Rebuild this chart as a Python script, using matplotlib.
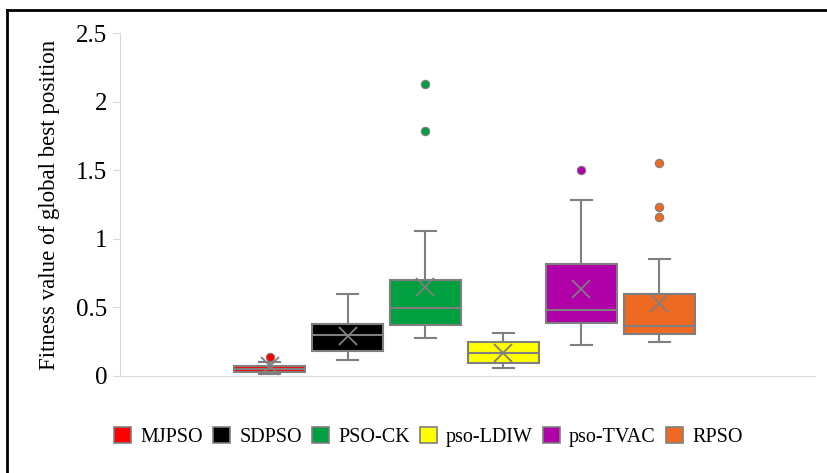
import matplotlib
matplotlib.use("Agg")
from matplotlib import pyplot as plt
from matplotlib.lines import Line2D
from matplotlib.patches import Patch

plt.rcParams['font.family'] = ['Liberation Serif', 'DejaVu Serif']

names = ['MJPSO', 'SDPSO', 'PSO-CK', 'pso-LDIW', 'pso-TVAC', 'RPSO']
colors = ['#FF0000', '#000000', '#00A040', '#FFFF00', '#B000A8', '#EE6A22']

# box statistics
whislo = [0.01, 0.115, 0.277, 0.054, 0.224, 0.246]
q1 = [0.025, 0.178, 0.37, 0.093, 0.387, 0.302]
med = [0.047, 0.30, 0.496, 0.168, 0.482, 0.363]
q3 = [0.071, 0.38, 0.70, 0.244, 0.813, 0.596]
whishi = [0.10, 0.596, 1.056, 0.314, 1.28, 0.85]
means = [0.07, 0.29, 0.65, 0.168, 0.633, 0.533]
fliers = [[0.134], [], [2.13, 1.79], [], [1.50], [1.555, 1.234, 1.158]]

grey = '#7F7F7F'

fig = plt.figure(figsize=(8.27, 4.73), dpi=100)
ax = fig.add_axes([0.1451, 0.2057, 0.8404, 0.7239])

stats = []
for i in range(len(names)):
    stats.append(dict(label=names[i], whislo=whislo[i], q1=q1[i], med=med[i],
                      q3=q3[i], whishi=whishi[i], mean=means[i], fliers=[]))

pos = list(range(1, len(names) + 1))
bp = ax.bxp(stats, positions=pos, widths=0.91, capwidths=0.27,
            patch_artist=True, showmeans=True, showfliers=False,
            boxprops=dict(edgecolor=grey, linewidth=1.5),
            medianprops=dict(color=grey, linewidth=1.5),
            whiskerprops=dict(color=grey, linewidth=1.5),
            capprops=dict(color=grey, linewidth=1.5),
            meanprops=dict(marker='x', markeredgecolor=grey, markersize=13,
                           markeredgewidth=1.3))
for box, c in zip(bp['boxes'], colors):
    box.set_facecolor(c)

for p, f, c in zip(pos, fliers, colors):
    if f:
        ax.scatter([p] * len(f), f, s=36, color=c, edgecolor=grey,
                   linewidth=0.8, zorder=3)

ax.set_xlim(-0.92, 8.0)
ax.set_ylim(0, 2.5)
ax.set_yticks([0, 0.5, 1, 1.5, 2, 2.5])
ax.set_yticklabels(['0', '0.5', '1', '1.5', '2', '2.5'])
ax.set_xticks([])
ax.tick_params(axis='y', labelsize=18, length=5, color='#D9D9D9', pad=4)
for s in ['top', 'right']:
    ax.spines[s].set_visible(False)
ax.spines['left'].set_color('#D9D9D9')
ax.spines['bottom'].set_color('#D9D9D9')
ax.set_ylabel('Fitness value of global best position', fontsize=16.5,
              labelpad=12)

handles = [Patch(facecolor=c, edgecolor=grey, linewidth=1.2) for c in colors]
fig.legend(handles, names, loc='center', bbox_to_anchor=(0.518, 0.076),
           ncol=6, frameon=False, fontsize=14.5, handlelength=0.85,
           handleheight=0.85, handletextpad=0.45, columnspacing=0.5)

# outer chart frame
fig.add_artist(Line2D([7 / 827, 1], [1 - 10 / 473, 1 - 10 / 473],
                      transform=fig.transFigure, color='black', linewidth=2))
fig.add_artist(Line2D([7 / 827, 7 / 827], [0, 1 - 10 / 473],
                      transform=fig.transFigure, color='black', linewidth=2))

fig.savefig('out.png', dpi=100)
